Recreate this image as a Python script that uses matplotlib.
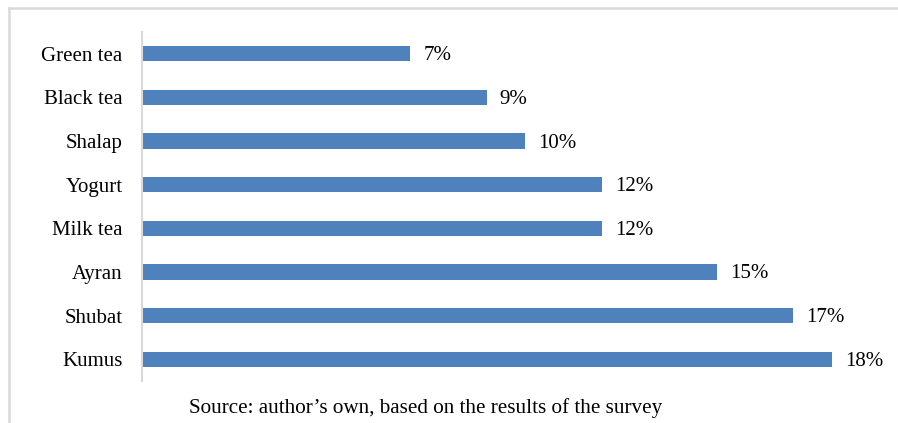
import matplotlib.pyplot as plt
from matplotlib.lines import Line2D

# Boissons et parts (en %)
boissons = ["Green tea", "Black tea", "Shalap", "Yogurt", "Milk tea", "Ayran", "Shubat", "Kumus"]
parts = [7, 9, 10, 12, 12, 15, 17, 18]
source = "Source: author\u2019s own, based on the results of the survey"

plt.rcParams["font.family"] = ["Liberation Serif", "DejaVu Serif"]

W, H = 898, 423
fig = plt.figure(figsize=(W / 100, H / 100), dpi=100)

# zone du graphique (en pixels)
x0, x1 = 142, 870
y_top, y_bas = 32, 381
ax = fig.add_axes([x0 / W, 1 - y_bas / H, (x1 - x0) / W, (y_bas - y_top) / H])

pos = range(len(boissons))
ax.barh(pos, parts, height=0.35, color="#4F81BD")
for p, v in zip(pos, parts):
    ax.annotate(f"{v}%", (v, p), xytext=(13, -2), textcoords="offset pixels",
                va="center", ha="left", fontsize=15, color="black")

ax.set_xlim(0, 19)
ax.set_ylim(len(boissons) - 0.5, -0.5)
ax.set_yticks(list(pos))
ax.set_yticklabels(boissons, fontsize=15, color="black")
ax.tick_params(axis="y", length=0, pad=14)
ax.set_xticks([])
for s in ["top", "right", "bottom"]:
    ax.spines[s].set_visible(False)
ax.spines["left"].set_color("#d9d9d9")
ax.spines["left"].set_linewidth(1.5)

# cadre gris (haut et gauche)
fig.add_artist(Line2D([9 / W, 1], [1 - 8 / H, 1 - 8 / H], transform=fig.transFigure,
                      color="#d9d9d9", linewidth=1.8))
fig.add_artist(Line2D([9 / W, 9 / W], [0, 1 - 8 / H], transform=fig.transFigure,
                      color="#d9d9d9", linewidth=1.8))

fig.text(426 / W, 1 - 408 / H, source, ha="center", va="center", fontsize=15.2, color="black")

fig.savefig("out.png", dpi=100)
